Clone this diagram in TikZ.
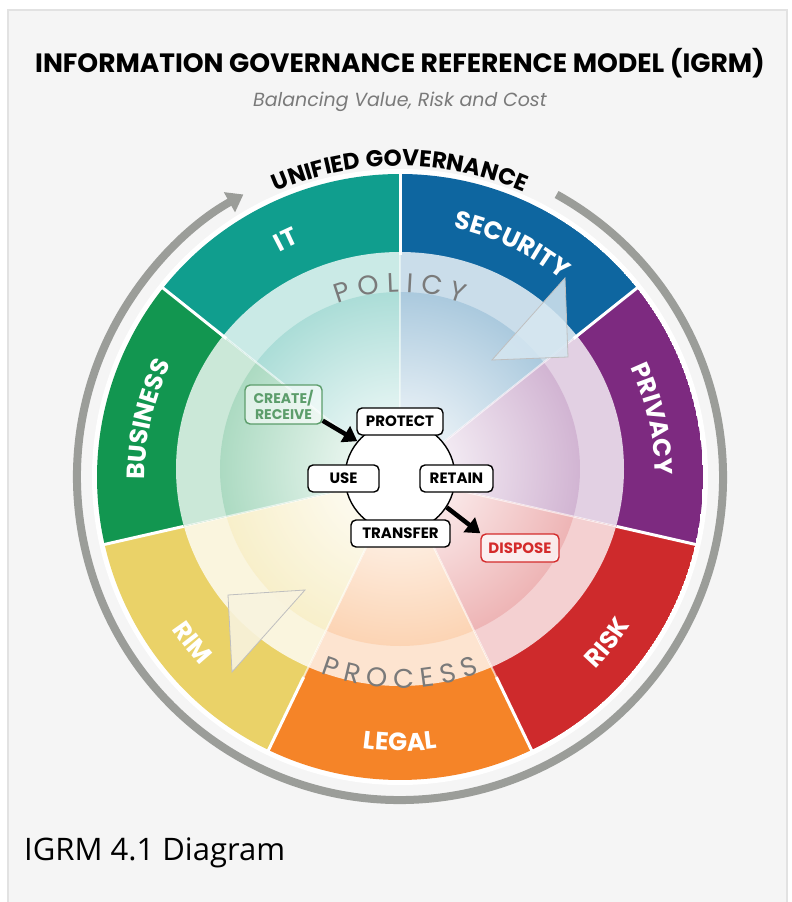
\documentclass[tikz,border=0pt]{standalone}
\usepackage{fontspec}
\setmainfont{Poppins}
\newfontfamily\capfont{Open Sans}
\usetikzlibrary{decorations.text, arrows.meta}

\definecolor{bgc}{HTML}{F5F5F5}
\definecolor{framec}{HTML}{E2E2E2}
\definecolor{ringgray}{HTML}{9B9D99}
\definecolor{itc}{RGB}{16,158,142}
\definecolor{secc}{RGB}{14,102,160}
\definecolor{prvc}{RGB}{125,42,128}
\definecolor{riskc}{RGB}{206,42,44}
\definecolor{legc}{RGB}{245,132,40}
\definecolor{rimc}{RGB}{234,210,104}
\definecolor{busc}{RGB}{18,150,80}
\definecolor{wordc}{HTML}{7A7A7A}
\definecolor{crtc}{HTML}{5C9D6B}
\definecolor{dspc}{HTML}{D42B2B}

\newcommand{\labfont}{\bfseries\fontsize{25}{25}\selectfont}
\newcommand{\wordfont}{\fontsize{27}{27}\selectfont}
\newcommand{\stagefont}{\bfseries\fontsize{15}{15}\selectfont}

\tikzset{
	labpath/.style = {decorate, decoration = {text along path, text align = center}},
	stage/.style = {draw, fill = white, rounded corners = 5pt, line width = 1.4pt, minimum height = 27pt, inner sep = 0pt, font = \stagefont},
	flow/.style = {line width = 4.5pt, -{Triangle[length = 14pt, width = 18pt]}}
}

\begin{document}
\begin{tikzpicture}[x = 1pt, y = 1pt]
		\useasboundingbox (-400,-425) rectangle (392,477);
		\fill[white] (-400,-425) rectangle (392,477);
		\draw[framec, fill = bgc, line width = 2pt] (-392,467) rectangle (387,-440);
		\node[anchor = base, font = \bfseries\fontsize{26.5}{26.5}\selectfont] (ttl) at (0,404) {INFORMATION GOVERNANCE REFERENCE MODEL (IGRM)};
		\node[anchor = base, text = wordc, font = \itshape\fontsize{19}{19}\selectfont] (sub) at (0,370) {Balancing Value, Risk and Cost};
		\draw[ringgray, line width = 8pt, -{Triangle[length = 16pt, width = 22pt]}] (61:323) arc[start angle = 61, end angle = -241, radius = 323];
		\fill[white] (0,0) circle[radius = 308];
		\foreach \i/\c in {0/secc, 1/prvc, 2/riskc, 3/legc, 4/rimc, 5/busc, 6/itc}{
			\pgfmathsetmacro{\sa}{90-360/7*\i}
			\pgfmathsetmacro{\ea}{\sa-360/7}
			\begin{scope}
				\clip (0,0) -- (\sa:303) arc[start angle = \sa, end angle = \ea, radius = 303] -- cycle;
				\fill[\c] (0,0) circle[radius = 303];
				\fill[\c!22] (0,8) ellipse[x radius = 224, y radius = 217];
				\clip (0,8) ellipse[x radius = 180, y radius = 177];
				\shade[inner color = white, outer color = \c!70] (0,8) ellipse[x radius = 360, y radius = 354];
			\end{scope}
		}
		\foreach \i in {0,...,6}{
			\draw[white, line width = 3pt] ({90-360/7*\i}:222) -- ({90-360/7*\i}:306);
			\draw[white, opacity = 0.6, line width = 2pt] ({90-360/7*\i}:50) -- ({90-360/7*\i}:222);
		}
		\draw[fill = {rgb,255:red,214;green,231;blue,241}, fill opacity = 0.85, draw = black!25, line width = 0.8pt] (165,199) -- (92,117) -- (168,120) -- cycle;
		\draw[fill = {rgb,255:red,248;green,243;blue,222}, fill opacity = 0.9, draw = black!25, line width = 0.8pt] (-172,-118) -- (-95,-113) -- (-168,-195) -- cycle;
		\foreach \i/\lab in {0/SECURITY, 1/PRIVACY, 5/BUSINESS, 6/IT}{
			\pgfmathsetmacro{\sa}{90-360/7*\i}
			\pgfmathsetmacro{\ea}{\sa-360/7}
			\path[labpath, decoration = {text color = white, text/.expanded = {|\noexpand\labfont|\lab}}] (\sa:255) arc[start angle = \sa, end angle = \ea, radius = 255];
		}
		\foreach \i/\lab in {2/RISK, 3/LEGAL, 4/RIM}{
			\pgfmathsetmacro{\sa}{90-360/7*\i}
			\pgfmathsetmacro{\ea}{\sa-360/7}
			\path[labpath, decoration = {text color = white, text/.expanded = {|\noexpand\labfont|\lab}}] (\ea:274) arc[start angle = \ea, end angle = \sa, radius = 274];
		}
		\path[labpath, decoration = {text color = wordc, text = {|\wordfont|P O L I C Y}}] ([shift = {(0,8)}]140:177) arc[start angle = 140, end angle = 40, radius = 177];
		\path[labpath, decoration = {text color = wordc, text = {|\wordfont|P R O C E S S}}] ([shift = {(0,8)}]-140:219) arc[start angle = -140, end angle = -40, radius = 219];
		\path[labpath, decoration = {text color = black, text = {|\labfont\fontsize{23}{23}\selectfont|UNIFIED GOVERNANCE}}] (125:311) arc[start angle = 125, end angle = 55, radius = 311];
		\node[circle, draw, line width = 1.4pt, fill = white, minimum size = 110pt, inner sep = 0pt] (cyc) at (0,0) {};
		\node[stage, minimum width = 86pt] (ptc) at (0,55.5) {PROTECT};
		\node[stage, minimum width = 71pt] (use) at (-56.5,-1.5) {USE};
		\node[stage, minimum width = 73pt] (ret) at (56.5,-1.5) {RETAIN};
		\node[stage, minimum width = 99pt] (trf) at (0.5,-56.5) {TRANSFER};
		\node[stage, draw = crtc, text = crtc, fill opacity = 0.6, text opacity = 1, minimum width = 77pt, minimum height = 39pt, align = center, font = \bfseries\fontsize{14}{16}\selectfont] (crt) at (-116.5,72.5) {CREATE/\\RECEIVE};
		\node[stage, draw = dspc, text = dspc, fill opacity = 0.7, text opacity = 1, minimum width = 78pt, minimum height = 28pt] (dsp) at (120,-71) {DISPOSE};
		\draw[flow] ([yshift = 4pt]crt.south east) -- (cyc.140);
		\draw[flow] (cyc.-33) -- (dsp.north west);
		\node[anchor = base west, inner sep = 0pt, font = \capfont\fontsize{31}{31}\selectfont] (cap) at (-376,-383) {IGRM 4.1 Diagram};
	\end{tikzpicture}
\end{document}
